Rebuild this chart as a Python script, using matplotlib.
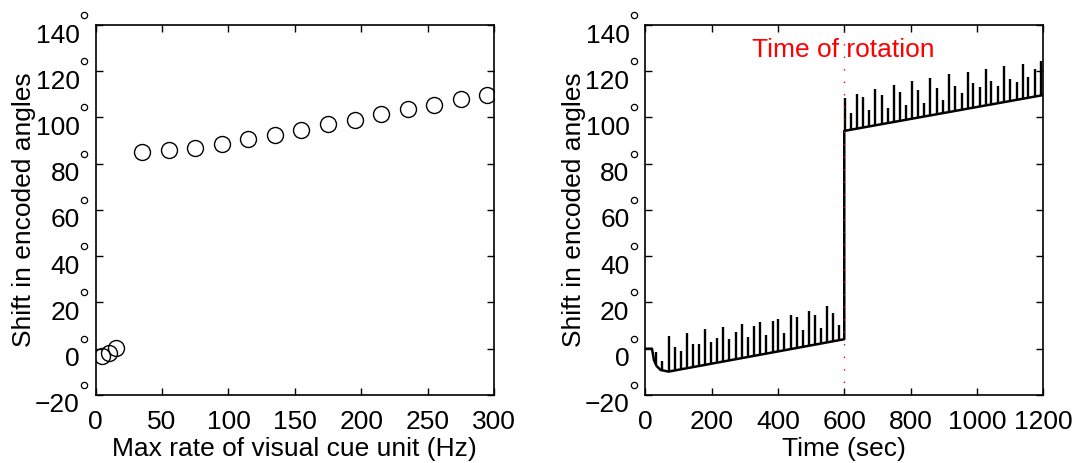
import numpy as np
import matplotlib
matplotlib.use("Agg")
import matplotlib.pyplot as plt
from matplotlib.transforms import ScaledTranslation

plt.rcParams['font.family'] = ['Liberation Sans', 'DejaVu Sans']

# left panel: shift vs max rate of the visual cue unit
rate_hz = [5, 10, 15, 35, 55, 75, 95, 115, 135, 155, 175, 195, 215, 235, 255, 275, 295]
shift_deg = [-3.0, -2.0, 0.2, 85.2, 85.9, 86.9, 88.5, 90.5, 92.5, 94.7, 97.0,
             99.1, 101.6, 103.6, 105.6, 107.8, 109.9]

# right panel: baseline of the encoded angle over time
base_t = [0, 20, 26, 34, 46, 70, 600, 600, 1200]
base_v = [0, 0, -5.0, -7.5, -9.2, -9.9, 4.1, 94.2, 109.7]

# spikes: time, foot and peak
spike_t = [31, 51, 70.5, 88.6, 106.7, 124.8, 143.8, 162.8, 180, 198, 217, 235, 253,
           273, 290.6, 308.7, 327.7, 345.8, 363.9, 384, 401, 419, 438, 456, 474.5,
           493.5, 511.6, 529.7, 548.7, 566.8, 584.9,
           602, 619, 639, 657, 675, 693, 712.7, 730.8, 750.7, 768, 786, 805, 823,
           840, 860, 878.5, 896.6, 915.6, 933.7, 953.9, 972, 988.9, 1009, 1027,
           1044, 1064, 1082, 1099.5, 1119.7, 1137.8, 1154.7, 1175, 1193]
spike_foot = [-6.5, -9.4, -9.8, -9.3, -8.9, -8.4, -7.9, -7.4, -6.9, -6.5, -6.0, -5.5,
              -5.0, -4.5, -4.0, -3.6, -3.1, -2.6, -2.1, -1.6, -1.1, -0.7, -0.2, 0.3,
              0.8, 1.3, 1.8, 2.3, 2.8, 3.2, 3.7,
              94.2, 94.7, 95.2, 95.7, 96.1, 96.6, 97.1, 97.6, 98.1, 98.5, 99.0, 99.5,
              100.0, 100.4, 100.9, 101.4, 101.9, 102.3, 102.8, 103.3, 103.8, 104.2,
              104.8, 105.2, 105.7, 106.2, 106.6, 107.1, 107.6, 108.1, 108.5, 109.0,
              109.5]
spike_peak = [-1.3, -5.2, 5.5, 0.6, -1.0, 7.0, 2.0, 1.9, 8.4, 2.9, 4.5, 9.5, 4.1,
              7.2, 10.7, 4.9, 9.8, 11.6, 5.9, 12.1, 12.7, 6.9, 14.4, 13.6, 8.0, 16.5,
              14.6, 8.8, 18.5, 15.6, 10.4,
              108.3, 102.1, 110.2, 108.7, 103.2, 112.2, 109.9, 104.0, 114.2, 110.9,
              105.3, 115.8, 111.9, 106.4, 117.2, 112.8, 107.6, 118.8, 113.8, 110.7,
              119.8, 114.8, 113.1, 121.0, 115.8, 113.8, 122.4, 116.6, 115.2, 123.1,
              117.6, 120.8, 124.3]

y_ticks = [-20, 0, 20, 40, 60, 80, 100, 120, 140]
y_labels = ['\u2212%d' % -v if v < 0 else '%d' % v for v in y_ticks]

FS = 19

fig = plt.figure(figsize=(10.81, 4.63), dpi=100)
ax1 = fig.add_axes([0.0885, 0.147, 0.3685, 0.799])
ax2 = fig.add_axes([0.597, 0.147, 0.368, 0.799])

ax1.plot(rate_hz, shift_deg, 'o', mfc='none', mec='black', ms=11.5, mew=1.0)
ax1.set_xlim(0, 300)
ax1.set_xticks([0, 50, 100, 150, 200, 250, 300])
ax1.set_xlabel('Max rate of visual cue unit (Hz)', fontsize=FS, labelpad=2)

ax2.plot(base_t, base_v, color='black', lw=1.8)
ax2.vlines(spike_t, spike_foot, spike_peak, color='black', lw=1.7)
ax2.axvline(600, color='red', ls=(0, (1, 8)), lw=1.0)
ax2.text(322, 129, 'Time of rotation', color='red', fontsize=FS, va='center')
ax2.set_xlim(0, 1200)
ax2.set_xticks([0, 200, 400, 600, 800, 1000, 1200])
ax2.set_xlabel('Time (sec)', fontsize=FS, labelpad=2)

down = ScaledTranslation(0, -8 / 100, fig.dpi_scale_trans)
deg_shift = ScaledTranslation(-11.5 / 100, 10 / 100, fig.dpi_scale_trans)

for ax in (ax1, ax2):
    ax.set_ylim(-20, 140)
    ax.set_yticks(y_ticks)
    ax.set_yticklabels(y_labels)
    ax.set_ylabel('Shift in encoded angles', fontsize=FS, labelpad=-1)
    ax.tick_params(direction='in', top=True, right=True, labelsize=FS,
                   length=5, width=1.0)
    ax.tick_params(axis='y', pad=11.5)
    ax.tick_params(axis='x', pad=11)
    for lab in ax.get_yticklabels():
        lab.set_transform(lab.get_transform() + down)
    # superscript degree signs next to the y tick labels
    ax.plot([0] * len(y_ticks), y_ticks, 'o', mfc='none', mec='black', ms=4.5,
            mew=0.9, clip_on=False,
            transform=ax.get_yaxis_transform() + deg_shift)
    for s in ax.spines.values():
        s.set_linewidth(1.2)

fig.savefig('out.png', dpi=100)
